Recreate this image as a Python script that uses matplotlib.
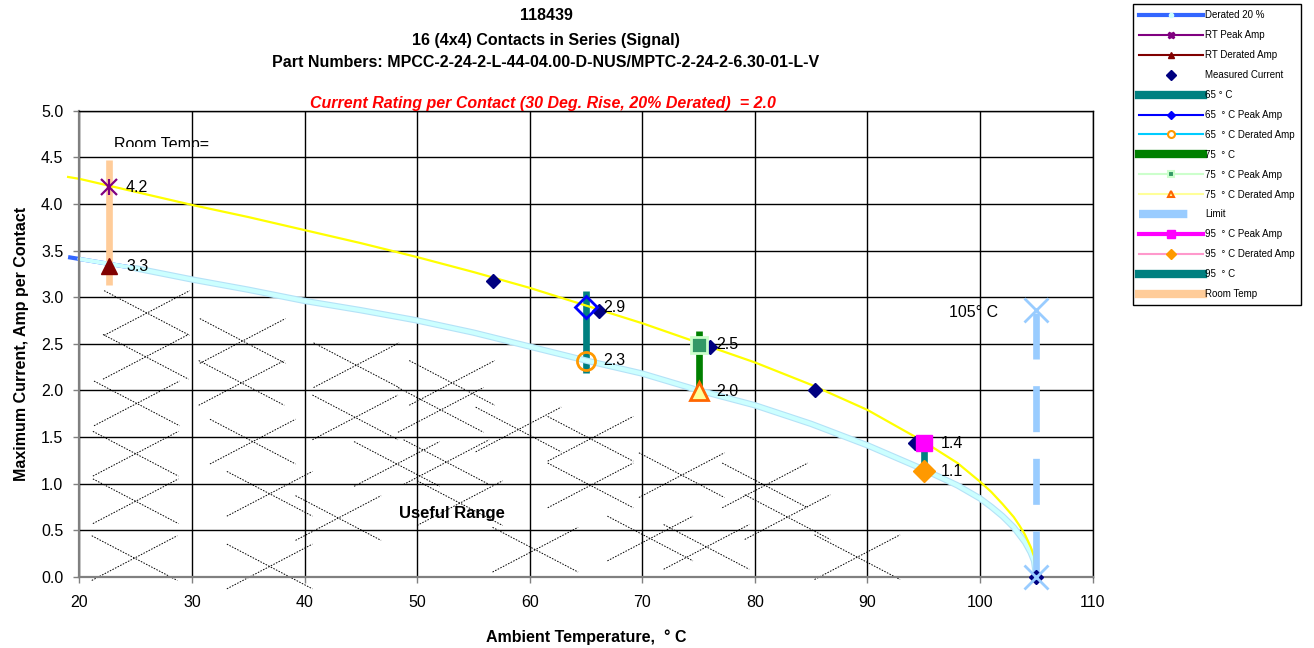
import matplotlib
matplotlib.use("Agg")
import matplotlib.pyplot as plt
from matplotlib.lines import Line2D
from matplotlib.patches import Rectangle

plt.rcParams.update({
    "font.family": ["Liberation Sans", "DejaVu Sans"],
    "font.size": 11.5,
})

# ---------------------------------------------------------------------------
# Data
# ---------------------------------------------------------------------------
curve_temp = [19, 20, 25, 30, 35, 40, 45, 50, 55, 60, 65, 70, 75, 80, 85,
              90, 95, 98, 100, 101, 102, 103, 103.5, 104, 104.5, 104.8, 105]
peak_curve = [4.29, 4.27, 4.13, 3.99, 3.86, 3.72, 3.58, 3.43, 3.27, 3.10,
              2.91, 2.72, 2.51, 2.30, 2.06, 1.79, 1.45, 1.22, 1.02, 0.91,
              0.78, 0.64, 0.55, 0.45, 0.32, 0.22, 0.0]
derated_curve = [3.43, 3.41, 3.31, 3.19, 3.08, 2.96, 2.86, 2.75, 2.62, 2.47,
                 2.32, 2.18, 2.00, 1.84, 1.64, 1.41, 1.15, 0.98, 0.84, 0.75,
                 0.65, 0.53, 0.45, 0.37, 0.26, 0.17, 0.0]

measured_temp = [56.7, 66.2, 76.0, 85.3, 94.2, 105.0]
measured_amp = [3.17, 2.85, 2.46, 2.00, 1.44, 0.0]

test_temp = [22.6, 65.0, 75.0, 95.0]          # RT, 65, 75, 95 deg C
test_peak = [4.18, 2.89, 2.49, 1.43]
test_derated = [3.33, 2.32, 1.99, 1.13]
bar_top = [4.47, 3.07, 2.64, 1.43]
bar_bottom = [3.13, 2.19, 1.99, 1.13]

limit_temp = 105.0
limit_amp = [0.0, 2.86]

# decorative "X" hatching of the useful range (centres, data units)
hatch_centers = [
    (26.0, 2.83), (25.9, 2.36), (25.1, 1.86), (25.0, 1.32), (25.0, 0.81),
    (24.9, 0.20), (34.5, 2.53), (34.4, 2.08), (35.4, 1.45), (36.9, 0.89),
    (36.9, 0.11), (43.0, 0.63), (44.6, 2.27), (44.5, 1.71), (48.2, 1.21),
    (53.1, 2.08), (52.1, 1.79), (52.6, 1.23), (53.8, 0.79), (59.0, 1.58),
    (65.4, 1.48), (65.4, 0.98), (60.5, 0.29), (73.5, 1.09), (70.7, 0.41),
    (75.7, 0.32), (80.9, 0.98), (82.9, 0.64), (89.1, 0.21),
]

# ---------------------------------------------------------------------------
# Figure
# ---------------------------------------------------------------------------
fig = plt.figure(figsize=(13.14, 6.48), dpi=100)
ax = fig.add_axes([0.0604, 0.110, 0.7711, 0.719])
ax.set_xlim(20, 110)
ax.set_ylim(0, 5)
ax.set_xticks(range(20, 111, 10))
ax.set_yticks([i * 0.5 for i in range(11)])
ax.yaxis.set_major_formatter(plt.FuncFormatter(lambda v, _: f"{v:.1f}"))
ax.grid(True, color="black", linewidth=1.0, zorder=0)
ax.set_axisbelow(True)
for side in ["top", "right"]:
    ax.spines[side].set_color("black")
    ax.spines[side].set_linewidth(1.0)
for side in ["left", "bottom"]:
    ax.spines[side].set_color("#808080")
    ax.spines[side].set_linewidth(1.6)
ax.tick_params(direction="out", length=4.5, width=1.0, color="#808080",
               labelsize=11.5, pad=7)
ax.tick_params(axis="x", pad=9)

# hatching
hx, hy = 3.8, 0.24
for cx, cy in hatch_centers:
    for s in (1, -1):
        ax.plot([cx - hx, cx + hx], [cy + s * hy, cy - s * hy], color="black",
                lw=0.7, ls=(0, (1.6, 1.4)), zorder=1.5, clip_on=False)

# derated curve (light band over a blue line)
ax.plot(curve_temp[:3], derated_curve[:3], color="#3366FF", lw=3.0,
        zorder=2, clip_on=False, solid_capstyle="butt")
ax.plot(curve_temp[2:], derated_curve[2:], color="#b4e2f7", lw=4.6, zorder=2.2,
        clip_on=False, solid_capstyle="round")
ax.plot(curve_temp[1:], derated_curve[1:], color="#ccffff", lw=3.0, zorder=2.3,
        clip_on=False, solid_capstyle="round")
# peak curve
ax.plot(curve_temp, peak_curve, color="#FFFF00", lw=1.6, zorder=2.4,
        clip_on=False)

# vertical bars at test temperatures
bar_colors = ["#FFCC99", "#008080", "#008000", "#008080"]
for t, lo, hi, c in zip(test_temp, bar_bottom, bar_top, bar_colors):
    ax.plot([t, t], [lo, hi], color=c, lw=4.8, solid_capstyle="butt",
            zorder=2.1)

# limit line
ax.plot([limit_temp, limit_temp], limit_amp, color="#99CCFF", lw=4.8,
        dashes=(6.9, 4.0), solid_capstyle="butt", zorder=2.5, clip_on=False)

# measured current
ax.plot(measured_temp, measured_amp, ls="none", marker="D", ms=7,
        color="#000080", zorder=4, clip_on=False)
ax.plot([limit_temp, limit_temp], limit_amp, ls="none", marker="x", ms=17,
        mew=2, color="#99CCFF", zorder=5, clip_on=False)

# peak markers
ax.plot(test_temp[0], test_peak[0], marker="x", ms=11, mew=1.6,
        color="#800080", zorder=6)
ax.plot(test_temp[0], test_peak[0], marker="|", ms=12, mew=1.6,
        color="#800080", zorder=6)
ax.plot(test_temp[1], test_peak[1], marker="D", ms=11, mew=2,
        mfc="none", mec="#0000FF", zorder=6)
ax.plot(test_temp[2], test_peak[2], marker="s", ms=12, mew=2,
        mfc="#339966", mec="#CCFFCC", zorder=6)
ax.plot(test_temp[3], test_peak[3], marker="s", ms=12, mew=1,
        mfc="#FF00FF", mec="#FF00FF", zorder=6)

# derated markers
ax.plot(test_temp[0], test_derated[0], marker="^", ms=12, mew=1,
        color="#800000", zorder=6)
ax.plot(test_temp[1], test_derated[1], marker="o", ms=13, mew=2,
        mfc="none", mec="#FF9900", zorder=6)
ax.plot(test_temp[2], test_derated[2], marker="^", ms=13, mew=2,
        mfc="#FFFF99", mec="#FF6600", zorder=6)
ax.plot(test_temp[3], test_derated[3], marker="D", ms=11, mew=1,
        mfc="#FF9900", mec="#FF9900", zorder=6)

# value labels
for t, v in zip(test_temp + test_temp, test_peak + test_derated):
    ax.annotate(f"{v:.1f}", (t, v), xytext=(12.5, 0), textcoords="offset points",
                ha="left", va="center", fontsize=11.5, zorder=7)

# in-plot texts
ax.text(99.4, 2.84, "105\u00b0 C", ha="center", va="center", fontsize=11.5)
ax.text(53.1, 0.68, "Useful Range", ha="center", va="center", fontsize=12,
        fontweight="bold", zorder=7)
rt = ax.text(23.07, 4.585, "Room Temp=", ha="left", va="baseline", fontsize=11.5)
rt.set_clip_on(True)
rt.set_clip_path(Rectangle((20, 4.612), 30, 1, transform=ax.transData))

ax.set_xlabel("Ambient Temperature,  \u00b0 C", fontsize=11.5, fontweight="bold",
              labelpad=14)
ax.set_ylabel("Maximum Current, Amp per Contact", fontsize=11.5,
              fontweight="bold", labelpad=9)

# titles
fig.text(0.4155, 0.976, "118439", ha="center", va="center", fontsize=11.5,
         fontweight="bold")
fig.text(0.4155, 0.938, "16 (4x4) Contacts in Series (Signal)", ha="center",
         va="center", fontsize=11.5, fontweight="bold")
fig.text(0.4155, 0.903,
         "Part Numbers: MPCC-2-24-2-L-44-04.00-D-NUS/MPTC-2-24-2-6.30-01-L-V",
         ha="center", va="center", fontsize=11.5, fontweight="bold")
fig.text(0.4135, 0.840,
         "Current Rating per Contact (30 Deg. Rise, 20% Derated)  = 2.0",
         ha="center", va="center", fontsize=11.5, fontweight="bold",
         fontstyle="italic", color="#FF0000")

# legend
handles = [
    Line2D([], [], color="#3366FF", lw=3, marker="o", ms=3, mfc="#CCFFFF",
           mec="#CCFFFF"),
    Line2D([], [], color="#800080", lw=1.5, marker="X", ms=5),
    Line2D([], [], color="#800000", lw=1.5, marker="^", ms=5),
    Line2D([], [], ls="none", marker="D", ms=5, color="#000080"),
    Line2D([], [], color="#008080", lw=6),
    Line2D([], [], color="#0000FF", lw=1.5, marker="D", ms=4),
    Line2D([], [], color="#00CCFF", lw=1.5, marker="o", ms=5, mfc="white",
           mec="#FF9900", mew=1.5),
    Line2D([], [], color="#008000", lw=6),
    Line2D([], [], color="#CCFFCC", lw=1.5, marker="s", ms=5, mfc="#339966",
           mec="#CCFFCC", mew=1.5),
    Line2D([], [], color="#FFFF99", lw=1.5, marker="^", ms=5, mfc="#FFFF99",
           mec="#FF6600", mew=1.5),
    Line2D([], [], color="#99CCFF", lw=6, dashes=(5.8, 3.5)),
    Line2D([], [], color="#FF00FF", lw=3, marker="s", ms=6),
    Line2D([], [], color="#FF99CC", lw=1.5, marker="D", ms=5, mfc="#FF9900",
           mec="#FF9900"),
    Line2D([], [], color="#008080", lw=6),
    Line2D([], [], color="#FFCC99", lw=6),
]
labels = ["Derated 20 %", "RT Peak Amp", "RT Derated Amp", "Measured Current",
          "65 \u00b0 C", "65  \u00b0 C Peak Amp", "65  \u00b0 C Derated Amp",
          "75  \u00b0 C", "75  \u00b0 C Peak Amp", "75  \u00b0 C Derated Amp",
          "Limit", "95  \u00b0 C Peak Amp", "95  \u00b0 C Derated Amp",
          "95  \u00b0 C", "Room Temp"]
leg = fig.legend(handles, labels, loc="upper left",
                 bbox_to_anchor=(1133 / 1314, 1 - 4.5 / 648), fontsize=7,
                 handlelength=6.6, handletextpad=0.25, labelspacing=1.02,
                 borderpad=0.6, borderaxespad=0, fancybox=False,
                 framealpha=1, edgecolor="black")
leg.get_frame().set_linewidth(1.0)

fig.savefig("out.png", dpi=100)
